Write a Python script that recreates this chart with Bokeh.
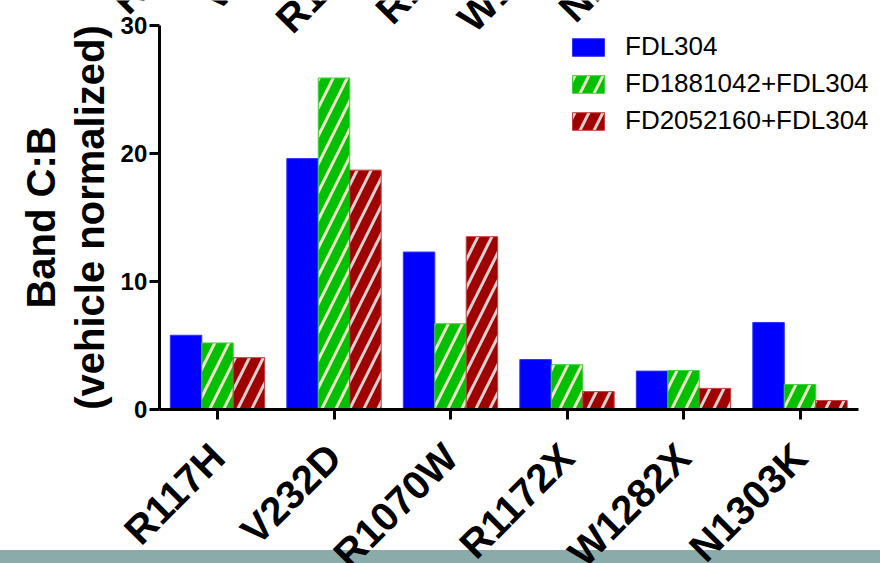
import math
from bokeh.plotting import figure
from bokeh.models import (Range1d, Legend, LegendItem, Label,
                          FixedTicker, ColumnDataSource)
from bokeh.transform import dodge
from bokeh.embed import file_html
from bokeh.resources import INLINE

# ---- data ----
mutations = ["R117H", "V232D", "R1070W", "R1172X", "W1282X", "N1303K"]
fdl304 = [5.8, 19.6, 12.3, 3.9, 3.0, 6.8]
fd1881042_fdl304 = [5.2, 25.9, 6.7, 3.5, 3.05, 1.95]
fd2052160_fdl304 = [4.05, 18.7, 13.5, 1.4, 1.65, 0.7]
series_names = ["FDL304", "FD1881042+FDL304", "FD2052160+FDL304"]
y_ticks = [0, 10, 20, 30]
# labels of the chart above, cut off by the top edge of the picture
upper_labels = ["R117H", "V232D", "R1070W", "R1172X", "W1282X", "N1303K"]

FONT = "Liberation Sans"
W, H = 880, 563

# ---- layout: the frame fills the canvas; axes are pinned at data locations ----
X0_PX, STEP_PX = 217.0, 116.5          # pixel of first category, category spacing
Y0_PX, YTOP_PX = 409.0, 25.0           # pixel of y=0 and y=30
ppu = (Y0_PX - YTOP_PX) / 30.0
x_range = Range1d(-X0_PX / STEP_PX, (W - X0_PX) / STEP_PX)
y_range = Range1d(-(H - Y0_PX) / ppu, Y0_PX / ppu)

idx = list(range(len(mutations)))
src = ColumnDataSource(dict(idx=idx, m=mutations, a=fdl304, b=fd1881042_fdl304,
                            c=fd2052160_fdl304))

p = figure(x_range=x_range, y_range=y_range, width=W, height=H,
           output_backend="svg", toolbar_location=None,
           min_border_left=0, min_border_right=0, min_border_top=0, min_border_bottom=0)
p.title.visible = False
p.outline_line_color = None
p.xgrid.visible = False
p.ygrid.visible = False
p.background_fill_color = None
p.border_fill_color = None
p.styles = {"background": "linear-gradient(to bottom, #ffffff 0px, #ffffff 550px, #8aabaa 550px, #8aabaa 100%)"}

w = 0.27
r1 = p.vbar(x=dodge("idx", -w), top="a", width=w, source=src,
            fill_color="#0000FF", line_color="#3030FF", line_width=1)
r2 = p.vbar(x=dodge("idx", 0), top="b", width=w, source=src,
            fill_color="#00C000", line_color="#40D040", line_width=1,
            hatch_pattern="/", hatch_color="#EFE8C8", hatch_scale=28, hatch_weight=3)
r3 = p.vbar(x=dodge("idx", w), top="c", width=w, source=src,
            fill_color="#A00000", line_color="#C04040", line_width=1,
            hatch_pattern="/", hatch_color="#D9D2D0", hatch_scale=28, hatch_weight=3)

# ---- axes ----
ya = p.yaxis[0]
ya.fixed_location = -0.5
ya.bounds = (0, 30)
ya.ticker = FixedTicker(ticks=y_ticks)
ya.minor_tick_line_color = None
ya.major_tick_in = 0
ya.major_tick_out = 10
ya.major_tick_line_width = 3
ya.axis_line_width = 3
ya.axis_line_color = "black"
ya.major_tick_line_color = "black"
ya.major_label_text_color = "black"
ya.major_label_text_font = FONT
ya.major_label_text_font_style = "bold"
ya.major_label_text_font_size = "24px"
ya.major_label_standoff = 2
ya.axis_label = "Band C:B\n(vehicle normalized)"
ya.axis_label_text_color = "black"
ya.axis_label_text_font = FONT
ya.axis_label_text_font_style = "bold"
ya.axis_label_text_font_size = "40px"
ya.axis_label_text_line_height = 1.12
ya.axis_label_standoff = 6

xa = p.xaxis[0]
xa.fixed_location = 0
xa.bounds = (-0.5, len(mutations) - 0.5)
xa.ticker = FixedTicker(ticks=idx)
xa.major_label_overrides = {i: m for i, m in zip(idx, mutations)}
xa.minor_tick_line_color = None
xa.major_tick_in = 0
xa.major_tick_out = 10
xa.major_tick_line_width = 3
xa.axis_line_width = 3
xa.axis_line_color = "black"
xa.major_tick_line_color = "black"
xa.major_label_text_color = "black"
xa.major_label_orientation = math.pi / 4
xa.major_label_text_font = FONT
xa.major_label_text_font_style = "bold"
xa.major_label_text_font_size = "40px"
xa.major_label_standoff = 31

# ---- legend ----
legend = Legend(items=[LegendItem(label=series_names[0], renderers=[r1]),
                       LegendItem(label=series_names[1], renderers=[r2]),
                       LegendItem(label=series_names[2], renderers=[r3])],
                location=(568, 427), glyph_width=40, glyph_height=22,
                label_text_font=FONT, label_text_font_size="26px",
                label_text_color="black",
                label_standoff=17, spacing=6, padding=0, margin=0,
                border_line_alpha=0, background_fill_alpha=0)
p.add_layout(legend)

# ---- cut-off labels of the chart above ----
anchors = [(118, 6), (206, 3), (282, 25), (382, 16), (464, 24), (565, 14)]
for txt, (ax, ay) in zip(upper_labels, anchors):
    p.add_layout(Label(x=ax, y=ay, x_units="canvas", y_units="canvas", text=txt,
                       angle=math.pi / 4, text_font=FONT, text_font_style="bold",
                       text_font_size="40px", text_align="left",
                       text_baseline="alphabetic", text_color="black"))

open("out.html", "w").write(file_html(p, INLINE))
